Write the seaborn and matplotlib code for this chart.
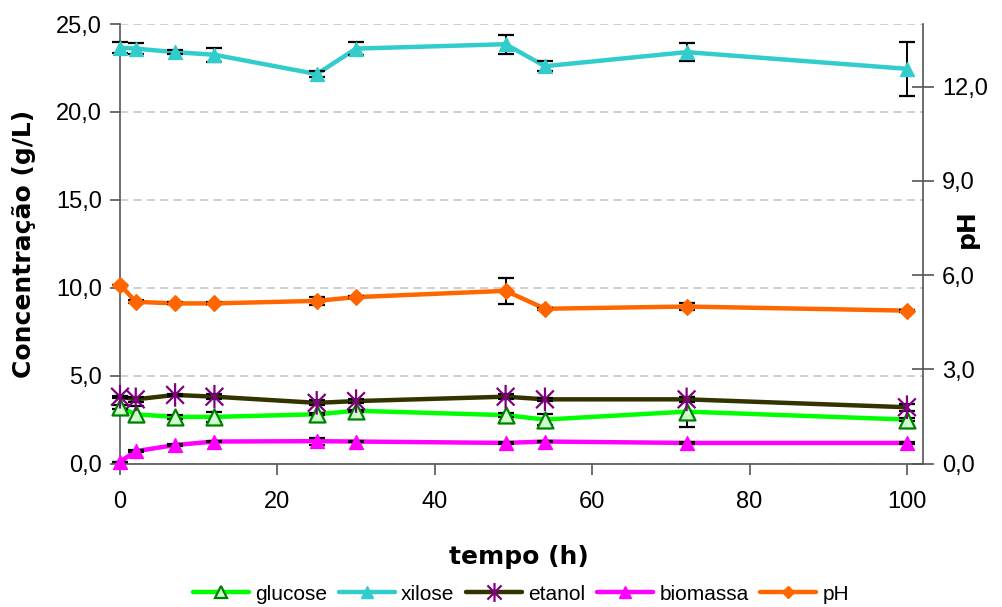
import matplotlib
matplotlib.use("Agg")
import matplotlib.pyplot as plt
import seaborn as sns
import pandas as pd
from matplotlib.ticker import FuncFormatter
from matplotlib.lines import Line2D
from matplotlib.path import Path

# Fermentation time course (h)
tempo = [0, 2, 7, 12, 25, 30, 49, 54, 72, 100]

# Concentrations (g/L) and standard deviations
glucose = [3.2, 2.8, 2.65, 2.65, 2.8, 3.0, 2.75, 2.5, 2.95, 2.5]
glucose_err = [0.1, 0.45, 0.1, 0.3, 0.05, 0.05, 0.1, 0.3, 0.85, 0.1]
xilose = [23.65, 23.6, 23.4, 23.25, 22.15, 23.6, 23.85, 22.6, 23.4, 22.45]
xilose_err = [0.3, 0.3, 0.1, 0.4, 0.15, 0.35, 0.55, 0.3, 0.5, 1.55]
etanol = [3.8, 3.65, 3.9, 3.8, 3.45, 3.55, 3.8, 3.65, 3.65, 3.2]
etanol_err = [0.05, 0.15, 0.05, 0.15, 0.15, 0.1, 0.15, 0.1, 0.15, 0.2]
biomassa = [0.1, 0.7, 1.05, 1.25, 1.27, 1.25, 1.17, 1.25, 1.17, 1.17]
biomassa_err = [0.0, 0.05, 0.05, 0.05, 0.2, 0.05, 0.05, 0.05, 0.05, 0.05]

# pH (secondary axis)
ph = [5.7, 5.15, 5.1, 5.1, 5.18, 5.3, 5.5, 4.93, 5.0, 4.87]
ph_err = [0.0, 0.05, 0.03, 0.03, 0.12, 0.03, 0.42, 0.03, 0.12, 0.03]

x_ticks = [0, 20, 40, 60, 80, 100]
left_ticks = [0, 5, 10, 15, 20, 25]
right_ticks = [0, 3, 6, 9, 12]

sns.set_theme(style="white")
plt.rcParams["font.family"] = ["Liberation Sans", "DejaVu Sans"]
plt.rcParams["text.color"] = "black"
plt.rcParams["axes.labelcolor"] = "black"
plt.rcParams["xtick.color"] = "black"
plt.rcParams["ytick.color"] = "black"

# Excel-like asterisk: vertical bar plus an X
star = Path([(0, 1), (0, -1), (-0.75, 0.75), (0.75, -0.75), (-0.75, -0.75), (0.75, 0.75)],
            [Path.MOVETO, Path.LINETO, Path.MOVETO, Path.LINETO, Path.MOVETO, Path.LINETO])

styles = {
    "glucose": dict(line="#00FF00", marker="^", face="#CCFFCC", edge="#008000", ms=11.5, mew=1.6),
    "xilose": dict(line="#33CCCC", marker="^", face="#33CCCC", edge="#33CCCC", ms=10, mew=1.0),
    "etanol": dict(line="#333300", marker=star, face="none", edge="#800080", ms=17, mew=1.6),
    "biomassa": dict(line="#FF00FF", marker="^", face="#FF00FF", edge="#FF00FF", ms=10, mew=1.0),
    "pH": dict(line="#FF6600", marker="D", face="#FF6600", edge="#FF6600", ms=8, mew=1.0),
}

fig = plt.figure(figsize=(10.02, 6.07), dpi=100)
ax = fig.add_axes([120 / 1002, 1 - 463.5 / 607, (922.7 - 120) / 1002, (463.5 - 24) / 607])
ax2 = ax.twinx()


def draw_series(axis, name, values, errors, base_z):
    st = styles[name]
    df = pd.DataFrame({"tempo": tempo, "valor": values})
    sns.lineplot(data=df, x="tempo", y="valor", ax=axis, color=st["line"], linewidth=3.2,
                 errorbar=None, zorder=base_z, clip_on=False, legend=False)
    axis.errorbar(tempo, values, yerr=errors, fmt="none", ecolor="black", elinewidth=1.4,
                  capsize=6, capthick=1.6, zorder=base_z + 0.1, clip_on=False)
    sns.scatterplot(data=df, x="tempo", y="valor", ax=axis, marker=st["marker"],
                    s=st["ms"] ** 2, facecolor=st["face"], edgecolor=st["edge"],
                    linewidth=st["mew"], zorder=base_z + 0.2, clip_on=False, legend=False)


draw_series(ax, "glucose", glucose, glucose_err, 3)
draw_series(ax, "xilose", xilose, xilose_err, 4)
draw_series(ax, "etanol", etanol, etanol_err, 5)
draw_series(ax, "biomassa", biomassa, biomassa_err, 6)
draw_series(ax2, "pH", ph, ph_err, 3)

comma = FuncFormatter(lambda v, p: f"{v:.1f}".replace(".", ","))

ax.set_xlim(0, 102)
ax.set_ylim(0, 25)
ax2.set_ylim(0, 14)
ax.set_xticks(x_ticks)
ax.set_yticks(left_ticks)
ax2.set_yticks(right_ticks)
ax.yaxis.set_major_formatter(comma)
ax2.yaxis.set_major_formatter(comma)

ax.yaxis.grid(True, linestyle=(0, (5, 3)), color="#C8C8C8", linewidth=1.2)
ax.xaxis.grid(False)
ax.set_axisbelow(True)

axis_color = "#555555"
for a in (ax, ax2):
    a.spines["top"].set_visible(False)
    for s in a.spines.values():
        s.set_color(axis_color)
        s.set_linewidth(1.2)
ax.spines["right"].set_visible(False)
ax2.spines["left"].set_visible(False)
ax2.spines["bottom"].set_visible(False)

ax.tick_params(axis="y", direction="out", length=7, width=1.2, color=axis_color,
               pad=6, labelsize=17, labelcolor="black", left=True)
ax.tick_params(axis="x", direction="out", length=8, width=1.2, color=axis_color,
               pad=12, labelsize=17, labelcolor="black", bottom=True)
ax2.tick_params(axis="y", direction="inout", length=16, width=1.2, color=axis_color,
                pad=6, labelsize=17, labelcolor="black", right=True)

label_font = dict(family="DejaVu Sans", weight="bold", size=18, color="black")
ax.set_xlabel("tempo (h)", **label_font)
ax.set_ylabel("Concentração (g/L)", **label_font)
ax2.set_ylabel("pH", **label_font)
ax.xaxis.set_label_coords(0.497, -0.185)
ax.yaxis.label.set_verticalalignment("center")
ax.yaxis.set_label_coords(-0.12, 0.5)
ax2.yaxis.label.set_rotation(90)
ax2.yaxis.label.set_verticalalignment("center")
ax2.yaxis.set_label_coords(1.055, 0.535)

handles = []
labels = ["glucose", "xilose", "etanol", "biomassa", "pH"]
for name in labels:
    st = styles[name]
    handles.append(Line2D([0], [0], color=st["line"], linewidth=3.2, marker=st["marker"],
                          markersize=st["ms"] * 0.8, markerfacecolor=st["face"],
                          markeredgecolor=st["edge"], markeredgewidth=st["mew"]))
fig.legend(handles, labels, loc="center", bbox_to_anchor=(521 / 1002, 1 - 594 / 607),
           ncol=5, frameon=False, fontsize=15, handlelength=2.7, handletextpad=0.3,
           columnspacing=0.55, numpoints=1, labelcolor="black")

fig.savefig("out.png", dpi=100)
